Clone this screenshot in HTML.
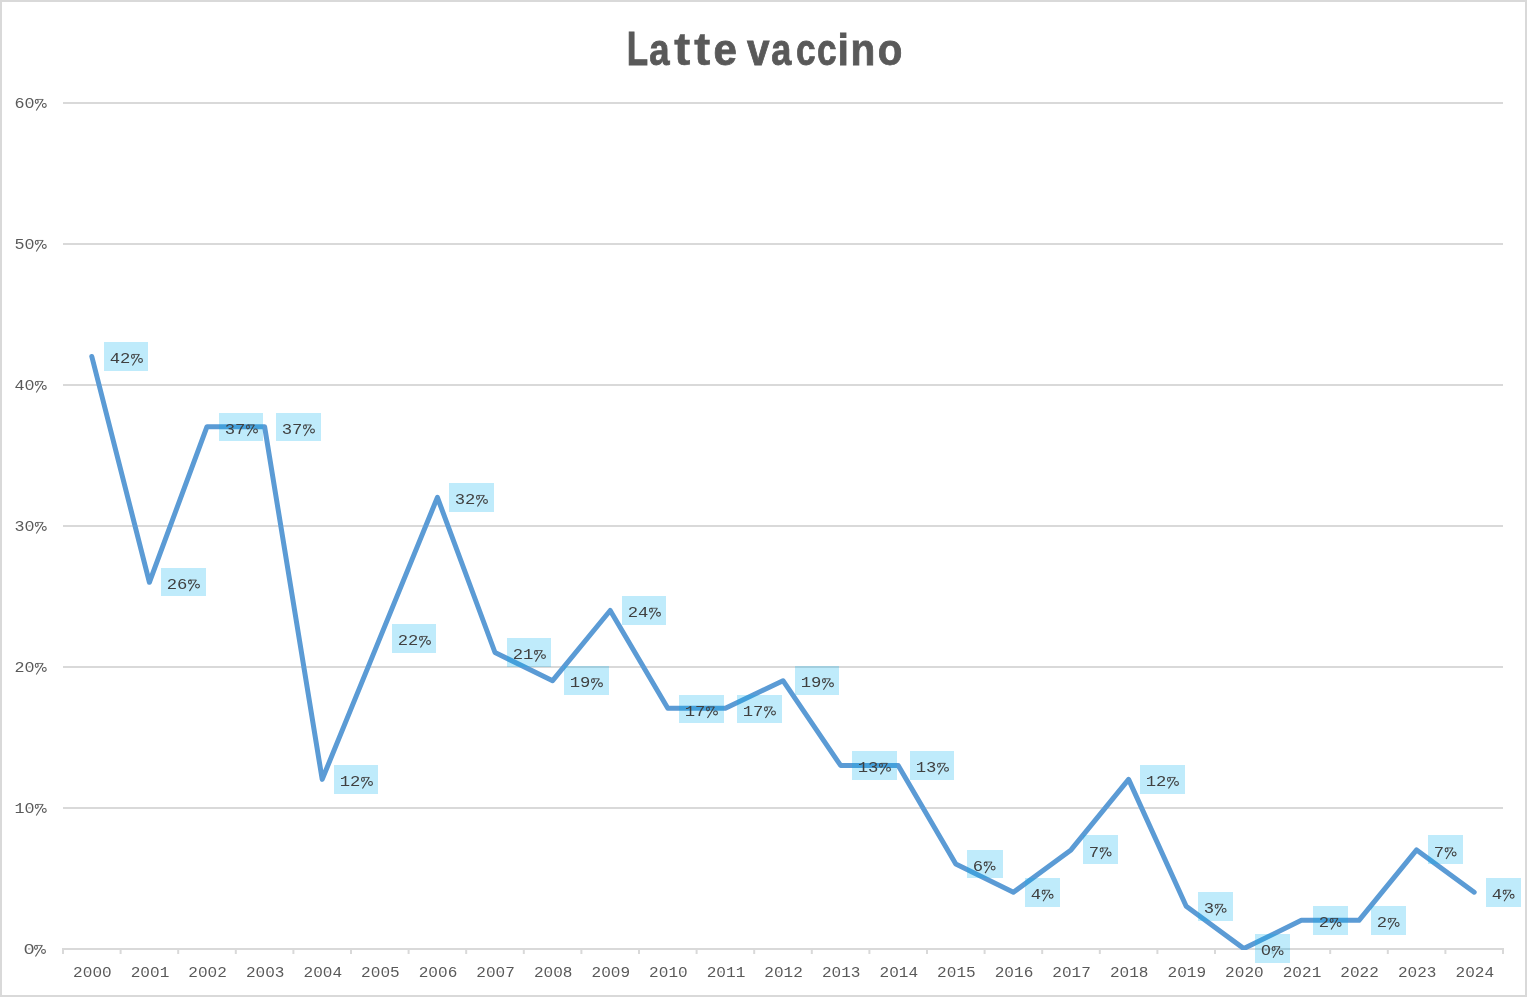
<!DOCTYPE html>
<html><head><meta charset="utf-8"><style>
html,body{margin:0;padding:0;background:#fff;}
body{width:1527px;height:997px;overflow:hidden;position:relative;}
svg{position:absolute;left:0;top:0;display:block;will-change:transform;}
text{font-family:"Liberation Sans",sans-serif;}
.m{font-family:"Liberation Mono",monospace;}
</style></head><body>
<svg width="1527" height="997" viewBox="0 0 1527 997">
<defs>
<g id="pct" fill="none">
<ellipse cx="1.95" cy="-6.55" rx="1.43" ry="1.9" stroke-width="1.05"/>
<path d="M1.95,-8.55 H8.45" stroke-width="0.8"/>
<path d="M8.3,-8.6 L1.45,2.5" stroke-width="1.05"/>
<ellipse cx="9.5" cy="-2.52" rx="1.9" ry="1.9" stroke-width="1.05"/>
</g>
<clipPath id="pc"><rect x="0" y="0" width="1527" height="950"/></clipPath>
</defs>
<rect x="0" y="0" width="1527" height="997" fill="#fff"/>
<rect x="1" y="1" width="1525" height="995" fill="none" stroke="#d9d9d9" stroke-width="2"/>
<g font-size="47" font-weight="bold" fill="#595959" stroke="#595959" stroke-width="0.8">
<text vector-effect="non-scaling-stroke" stroke-width="0.8" transform="translate(626.79,64.50) scale(0.744,1.019)">L</text>
<text vector-effect="non-scaling-stroke" stroke-width="0.8" transform="translate(649.21,64.50) scale(0.776,0.951)">a</text>
<text vector-effect="non-scaling-stroke" stroke-width="0.4" transform="translate(674.11,64.70) scale(1.050,0.987)">t</text>
<text vector-effect="non-scaling-stroke" stroke-width="0.4" transform="translate(694.01,64.70) scale(1.050,0.987)">t</text>
<text vector-effect="non-scaling-stroke" stroke-width="0.8" transform="translate(713.59,64.50) scale(0.894,0.951)">e</text>
<text vector-effect="non-scaling-stroke" stroke-width="0.8" transform="translate(747.03,64.50) scale(0.860,0.954)">v</text>
<text vector-effect="non-scaling-stroke" stroke-width="0.8" transform="translate(771.22,64.50) scale(0.768,0.951)">a</text>
<text vector-effect="non-scaling-stroke" stroke-width="0.8" transform="translate(796.05,64.50) scale(0.751,0.951)">c</text>
<text vector-effect="non-scaling-stroke" stroke-width="0.8" transform="translate(817.05,64.50) scale(0.751,0.951)">c</text>
<text vector-effect="non-scaling-stroke" stroke-width="0.8" transform="translate(837.51,64.50) scale(0.875,0.944)">i</text>
<text vector-effect="non-scaling-stroke" stroke-width="0.8" transform="translate(850.52,64.50) scale(0.863,0.951)">n</text>
<text vector-effect="non-scaling-stroke" stroke-width="0.8" transform="translate(877.76,64.50) scale(0.857,0.951)">o</text>
</g>
<line x1="63.0" y1="808.0" x2="1503.0" y2="808.0" stroke="#d9d9d9" stroke-width="2"/>
<line x1="63.0" y1="667.0" x2="1503.0" y2="667.0" stroke="#d9d9d9" stroke-width="2"/>
<line x1="63.0" y1="526.0" x2="1503.0" y2="526.0" stroke="#d9d9d9" stroke-width="2"/>
<line x1="63.0" y1="385.0" x2="1503.0" y2="385.0" stroke="#d9d9d9" stroke-width="2"/>
<line x1="63.0" y1="244.0" x2="1503.0" y2="244.0" stroke="#d9d9d9" stroke-width="2"/>
<line x1="63.0" y1="103.0" x2="1503.0" y2="103.0" stroke="#d9d9d9" stroke-width="2"/>
<text class="m" x="23.47" y="954.00" font-size="15.2" fill="#595959" textLength="11.20" lengthAdjust="spacingAndGlyphs">0</text><rect x="27.97" y="947.80" width="2.2" height="2.2" fill="#fff" fill-opacity="0.6"/>
<use href="#pct" x="34.00" y="954.00" stroke="#595959"/>
<text class="m" x="14.47" y="813.00" font-size="15.2" fill="#595959" textLength="20.06" lengthAdjust="spacingAndGlyphs">10</text><rect x="28.42" y="806.80" width="2.2" height="2.2" fill="#fff" fill-opacity="0.6"/>
<use href="#pct" x="34.80" y="813.00" stroke="#595959"/>
<text class="m" x="14.47" y="672.00" font-size="15.2" fill="#595959" textLength="20.06" lengthAdjust="spacingAndGlyphs">20</text><rect x="28.42" y="665.80" width="2.2" height="2.2" fill="#fff" fill-opacity="0.6"/>
<use href="#pct" x="34.80" y="672.00" stroke="#595959"/>
<text class="m" x="14.47" y="531.00" font-size="15.2" fill="#595959" textLength="20.06" lengthAdjust="spacingAndGlyphs">30</text><rect x="28.42" y="524.80" width="2.2" height="2.2" fill="#fff" fill-opacity="0.6"/>
<use href="#pct" x="34.80" y="531.00" stroke="#595959"/>
<text class="m" x="14.47" y="390.00" font-size="15.2" fill="#595959" textLength="20.06" lengthAdjust="spacingAndGlyphs">40</text><rect x="28.42" y="383.80" width="2.2" height="2.2" fill="#fff" fill-opacity="0.6"/>
<use href="#pct" x="34.80" y="390.00" stroke="#595959"/>
<text class="m" x="14.47" y="249.00" font-size="15.2" fill="#595959" textLength="20.06" lengthAdjust="spacingAndGlyphs">50</text><rect x="28.42" y="242.80" width="2.2" height="2.2" fill="#fff" fill-opacity="0.6"/>
<use href="#pct" x="34.80" y="249.00" stroke="#595959"/>
<text class="m" x="14.47" y="108.00" font-size="15.2" fill="#595959" textLength="20.06" lengthAdjust="spacingAndGlyphs">60</text><rect x="28.42" y="101.80" width="2.2" height="2.2" fill="#fff" fill-opacity="0.6"/>
<use href="#pct" x="34.80" y="108.00" stroke="#595959"/>
<line x1="62.0" y1="949.0" x2="1504.0" y2="949.0" stroke="#d9d9d9" stroke-width="2"/>
<line x1="63.0" y1="949.0" x2="63.0" y2="954.0" stroke="#d9d9d9" stroke-width="2"/>
<line x1="120.6" y1="949.0" x2="120.6" y2="954.0" stroke="#d9d9d9" stroke-width="2"/>
<line x1="178.2" y1="949.0" x2="178.2" y2="954.0" stroke="#d9d9d9" stroke-width="2"/>
<line x1="235.8" y1="949.0" x2="235.8" y2="954.0" stroke="#d9d9d9" stroke-width="2"/>
<line x1="293.4" y1="949.0" x2="293.4" y2="954.0" stroke="#d9d9d9" stroke-width="2"/>
<line x1="351.0" y1="949.0" x2="351.0" y2="954.0" stroke="#d9d9d9" stroke-width="2"/>
<line x1="408.6" y1="949.0" x2="408.6" y2="954.0" stroke="#d9d9d9" stroke-width="2"/>
<line x1="466.2" y1="949.0" x2="466.2" y2="954.0" stroke="#d9d9d9" stroke-width="2"/>
<line x1="523.8" y1="949.0" x2="523.8" y2="954.0" stroke="#d9d9d9" stroke-width="2"/>
<line x1="581.4" y1="949.0" x2="581.4" y2="954.0" stroke="#d9d9d9" stroke-width="2"/>
<line x1="639.0" y1="949.0" x2="639.0" y2="954.0" stroke="#d9d9d9" stroke-width="2"/>
<line x1="696.6" y1="949.0" x2="696.6" y2="954.0" stroke="#d9d9d9" stroke-width="2"/>
<line x1="754.2" y1="949.0" x2="754.2" y2="954.0" stroke="#d9d9d9" stroke-width="2"/>
<line x1="811.8" y1="949.0" x2="811.8" y2="954.0" stroke="#d9d9d9" stroke-width="2"/>
<line x1="869.4" y1="949.0" x2="869.4" y2="954.0" stroke="#d9d9d9" stroke-width="2"/>
<line x1="927.0" y1="949.0" x2="927.0" y2="954.0" stroke="#d9d9d9" stroke-width="2"/>
<line x1="984.6" y1="949.0" x2="984.6" y2="954.0" stroke="#d9d9d9" stroke-width="2"/>
<line x1="1042.2" y1="949.0" x2="1042.2" y2="954.0" stroke="#d9d9d9" stroke-width="2"/>
<line x1="1099.8" y1="949.0" x2="1099.8" y2="954.0" stroke="#d9d9d9" stroke-width="2"/>
<line x1="1157.4" y1="949.0" x2="1157.4" y2="954.0" stroke="#d9d9d9" stroke-width="2"/>
<line x1="1215.0" y1="949.0" x2="1215.0" y2="954.0" stroke="#d9d9d9" stroke-width="2"/>
<line x1="1272.6" y1="949.0" x2="1272.6" y2="954.0" stroke="#d9d9d9" stroke-width="2"/>
<line x1="1330.2" y1="949.0" x2="1330.2" y2="954.0" stroke="#d9d9d9" stroke-width="2"/>
<line x1="1387.8" y1="949.0" x2="1387.8" y2="954.0" stroke="#d9d9d9" stroke-width="2"/>
<line x1="1445.4" y1="949.0" x2="1445.4" y2="954.0" stroke="#d9d9d9" stroke-width="2"/>
<line x1="1503.0" y1="949.0" x2="1503.0" y2="954.0" stroke="#d9d9d9" stroke-width="2"/>
<text class="m" x="73.14" y="977.00" font-size="15.2" fill="#595959" textLength="38.54" lengthAdjust="spacingAndGlyphs">2000</text><rect x="86.50" y="970.80" width="2.2" height="2.2" fill="#fff" fill-opacity="0.6"/><rect x="96.13" y="970.80" width="2.2" height="2.2" fill="#fff" fill-opacity="0.6"/><rect x="105.77" y="970.80" width="2.2" height="2.2" fill="#fff" fill-opacity="0.6"/>
<text class="m" x="130.74" y="977.00" font-size="15.2" fill="#595959" textLength="38.54" lengthAdjust="spacingAndGlyphs">2001</text><rect x="144.10" y="970.80" width="2.2" height="2.2" fill="#fff" fill-opacity="0.6"/><rect x="153.73" y="970.80" width="2.2" height="2.2" fill="#fff" fill-opacity="0.6"/>
<text class="m" x="188.34" y="977.00" font-size="15.2" fill="#595959" textLength="38.54" lengthAdjust="spacingAndGlyphs">2002</text><rect x="201.70" y="970.80" width="2.2" height="2.2" fill="#fff" fill-opacity="0.6"/><rect x="211.33" y="970.80" width="2.2" height="2.2" fill="#fff" fill-opacity="0.6"/>
<text class="m" x="245.94" y="977.00" font-size="15.2" fill="#595959" textLength="38.54" lengthAdjust="spacingAndGlyphs">2003</text><rect x="259.30" y="970.80" width="2.2" height="2.2" fill="#fff" fill-opacity="0.6"/><rect x="268.93" y="970.80" width="2.2" height="2.2" fill="#fff" fill-opacity="0.6"/>
<text class="m" x="303.54" y="977.00" font-size="15.2" fill="#595959" textLength="38.54" lengthAdjust="spacingAndGlyphs">2004</text><rect x="316.90" y="970.80" width="2.2" height="2.2" fill="#fff" fill-opacity="0.6"/><rect x="326.53" y="970.80" width="2.2" height="2.2" fill="#fff" fill-opacity="0.6"/>
<text class="m" x="361.14" y="977.00" font-size="15.2" fill="#595959" textLength="38.54" lengthAdjust="spacingAndGlyphs">2005</text><rect x="374.50" y="970.80" width="2.2" height="2.2" fill="#fff" fill-opacity="0.6"/><rect x="384.13" y="970.80" width="2.2" height="2.2" fill="#fff" fill-opacity="0.6"/>
<text class="m" x="418.74" y="977.00" font-size="15.2" fill="#595959" textLength="38.54" lengthAdjust="spacingAndGlyphs">2006</text><rect x="432.10" y="970.80" width="2.2" height="2.2" fill="#fff" fill-opacity="0.6"/><rect x="441.73" y="970.80" width="2.2" height="2.2" fill="#fff" fill-opacity="0.6"/>
<text class="m" x="476.34" y="977.00" font-size="15.2" fill="#595959" textLength="38.54" lengthAdjust="spacingAndGlyphs">2007</text><rect x="489.70" y="970.80" width="2.2" height="2.2" fill="#fff" fill-opacity="0.6"/><rect x="499.33" y="970.80" width="2.2" height="2.2" fill="#fff" fill-opacity="0.6"/>
<text class="m" x="533.94" y="977.00" font-size="15.2" fill="#595959" textLength="38.54" lengthAdjust="spacingAndGlyphs">2008</text><rect x="547.30" y="970.80" width="2.2" height="2.2" fill="#fff" fill-opacity="0.6"/><rect x="556.93" y="970.80" width="2.2" height="2.2" fill="#fff" fill-opacity="0.6"/>
<text class="m" x="591.54" y="977.00" font-size="15.2" fill="#595959" textLength="38.54" lengthAdjust="spacingAndGlyphs">2009</text><rect x="604.90" y="970.80" width="2.2" height="2.2" fill="#fff" fill-opacity="0.6"/><rect x="614.53" y="970.80" width="2.2" height="2.2" fill="#fff" fill-opacity="0.6"/>
<text class="m" x="649.14" y="977.00" font-size="15.2" fill="#595959" textLength="38.54" lengthAdjust="spacingAndGlyphs">2010</text><rect x="662.50" y="970.80" width="2.2" height="2.2" fill="#fff" fill-opacity="0.6"/><rect x="681.77" y="970.80" width="2.2" height="2.2" fill="#fff" fill-opacity="0.6"/>
<text class="m" x="706.74" y="977.00" font-size="15.2" fill="#595959" textLength="38.54" lengthAdjust="spacingAndGlyphs">2011</text><rect x="720.10" y="970.80" width="2.2" height="2.2" fill="#fff" fill-opacity="0.6"/>
<text class="m" x="764.34" y="977.00" font-size="15.2" fill="#595959" textLength="38.54" lengthAdjust="spacingAndGlyphs">2012</text><rect x="777.70" y="970.80" width="2.2" height="2.2" fill="#fff" fill-opacity="0.6"/>
<text class="m" x="821.94" y="977.00" font-size="15.2" fill="#595959" textLength="38.54" lengthAdjust="spacingAndGlyphs">2013</text><rect x="835.30" y="970.80" width="2.2" height="2.2" fill="#fff" fill-opacity="0.6"/>
<text class="m" x="879.54" y="977.00" font-size="15.2" fill="#595959" textLength="38.54" lengthAdjust="spacingAndGlyphs">2014</text><rect x="892.90" y="970.80" width="2.2" height="2.2" fill="#fff" fill-opacity="0.6"/>
<text class="m" x="937.14" y="977.00" font-size="15.2" fill="#595959" textLength="38.54" lengthAdjust="spacingAndGlyphs">2015</text><rect x="950.50" y="970.80" width="2.2" height="2.2" fill="#fff" fill-opacity="0.6"/>
<text class="m" x="994.74" y="977.00" font-size="15.2" fill="#595959" textLength="38.54" lengthAdjust="spacingAndGlyphs">2016</text><rect x="1008.10" y="970.80" width="2.2" height="2.2" fill="#fff" fill-opacity="0.6"/>
<text class="m" x="1052.34" y="977.00" font-size="15.2" fill="#595959" textLength="38.54" lengthAdjust="spacingAndGlyphs">2017</text><rect x="1065.70" y="970.80" width="2.2" height="2.2" fill="#fff" fill-opacity="0.6"/>
<text class="m" x="1109.94" y="977.00" font-size="15.2" fill="#595959" textLength="38.54" lengthAdjust="spacingAndGlyphs">2018</text><rect x="1123.30" y="970.80" width="2.2" height="2.2" fill="#fff" fill-opacity="0.6"/>
<text class="m" x="1167.54" y="977.00" font-size="15.2" fill="#595959" textLength="38.54" lengthAdjust="spacingAndGlyphs">2019</text><rect x="1180.90" y="970.80" width="2.2" height="2.2" fill="#fff" fill-opacity="0.6"/>
<text class="m" x="1225.14" y="977.00" font-size="15.2" fill="#595959" textLength="38.54" lengthAdjust="spacingAndGlyphs">2020</text><rect x="1238.50" y="970.80" width="2.2" height="2.2" fill="#fff" fill-opacity="0.6"/><rect x="1257.77" y="970.80" width="2.2" height="2.2" fill="#fff" fill-opacity="0.6"/>
<text class="m" x="1282.74" y="977.00" font-size="15.2" fill="#595959" textLength="38.54" lengthAdjust="spacingAndGlyphs">2021</text><rect x="1296.10" y="970.80" width="2.2" height="2.2" fill="#fff" fill-opacity="0.6"/>
<text class="m" x="1340.34" y="977.00" font-size="15.2" fill="#595959" textLength="38.54" lengthAdjust="spacingAndGlyphs">2022</text><rect x="1353.70" y="970.80" width="2.2" height="2.2" fill="#fff" fill-opacity="0.6"/>
<text class="m" x="1397.94" y="977.00" font-size="15.2" fill="#595959" textLength="38.54" lengthAdjust="spacingAndGlyphs">2023</text><rect x="1411.30" y="970.80" width="2.2" height="2.2" fill="#fff" fill-opacity="0.6"/>
<text class="m" x="1455.54" y="977.00" font-size="15.2" fill="#595959" textLength="38.54" lengthAdjust="spacingAndGlyphs">2024</text><rect x="1468.90" y="970.80" width="2.2" height="2.2" fill="#fff" fill-opacity="0.6"/>
<polyline clip-path="url(#pc)" points="91.80,356.50 149.40,582.30 207.00,426.70 264.60,426.70 322.20,779.40 379.80,638.40 437.40,497.40 495.00,652.50 552.60,680.70 610.20,610.50 667.80,708.35 725.40,708.35 783.00,680.70 840.60,765.45 898.20,765.45 955.80,864.00 1013.40,892.20 1071.00,849.90 1128.60,779.40 1186.20,906.30 1243.80,948.60 1301.40,920.35 1359.00,920.35 1416.60,849.90 1474.20,892.20" fill="none" stroke="#5b9bd5" stroke-width="5" stroke-linejoin="round" stroke-linecap="round"/>
<rect x="104" y="342" width="44" height="29" fill="rgba(0,176,240,0.25)"/>
<rect x="161" y="568" width="45" height="28" fill="rgba(0,176,240,0.25)"/>
<rect x="219" y="413" width="44" height="28" fill="rgba(0,176,240,0.25)"/>
<rect x="276" y="413" width="45" height="28" fill="rgba(0,176,240,0.25)"/>
<rect x="334" y="765" width="44" height="29" fill="rgba(0,176,240,0.25)"/>
<rect x="392" y="624" width="44" height="29" fill="rgba(0,176,240,0.25)"/>
<rect x="449" y="483" width="45" height="29" fill="rgba(0,176,240,0.25)"/>
<rect x="507" y="638" width="44" height="29" fill="rgba(0,176,240,0.25)"/>
<rect x="564" y="666" width="45" height="29" fill="rgba(0,176,240,0.25)"/>
<rect x="622" y="596" width="44" height="29" fill="rgba(0,176,240,0.25)"/>
<rect x="679" y="695" width="45" height="28" fill="rgba(0,176,240,0.25)"/>
<rect x="737" y="695" width="45" height="28" fill="rgba(0,176,240,0.25)"/>
<rect x="795" y="666" width="44" height="29" fill="rgba(0,176,240,0.25)"/>
<rect x="852" y="751" width="45" height="29" fill="rgba(0,176,240,0.25)"/>
<rect x="910" y="751" width="44" height="29" fill="rgba(0,176,240,0.25)"/>
<rect x="967" y="850" width="36" height="28" fill="rgba(0,176,240,0.25)"/>
<rect x="1025" y="878" width="35" height="29" fill="rgba(0,176,240,0.25)"/>
<rect x="1083" y="835" width="35" height="29" fill="rgba(0,176,240,0.25)"/>
<rect x="1140" y="765" width="45" height="29" fill="rgba(0,176,240,0.25)"/>
<rect x="1198" y="892" width="35" height="29" fill="rgba(0,176,240,0.25)"/>
<rect x="1255" y="934" width="35" height="29" fill="rgba(0,176,240,0.25)"/>
<rect x="1313" y="906" width="35" height="29" fill="rgba(0,176,240,0.25)"/>
<rect x="1371" y="906" width="35" height="29" fill="rgba(0,176,240,0.25)"/>
<rect x="1428" y="835" width="35" height="29" fill="rgba(0,176,240,0.25)"/>
<rect x="1486" y="878" width="35" height="29" fill="rgba(0,176,240,0.25)"/>
<text class="m" x="109.66" y="363.00" font-size="15.2" fill="#404040" textLength="20.70" lengthAdjust="spacingAndGlyphs">42</text>
<use href="#pct" x="131.00" y="363.00" stroke="#404040"/>
<text class="m" x="166.67" y="588.60" font-size="15.2" fill="#404040" textLength="20.70" lengthAdjust="spacingAndGlyphs">26</text>
<use href="#pct" x="188.00" y="588.60" stroke="#404040"/>
<text class="m" x="224.67" y="433.50" font-size="15.2" fill="#404040" textLength="20.70" lengthAdjust="spacingAndGlyphs">37</text>
<use href="#pct" x="246.00" y="433.50" stroke="#404040"/>
<text class="m" x="281.67" y="433.50" font-size="15.2" fill="#404040" textLength="20.70" lengthAdjust="spacingAndGlyphs">37</text>
<use href="#pct" x="303.00" y="433.50" stroke="#404040"/>
<text class="m" x="339.67" y="786.00" font-size="15.2" fill="#404040" textLength="20.70" lengthAdjust="spacingAndGlyphs">12</text>
<use href="#pct" x="361.00" y="786.00" stroke="#404040"/>
<text class="m" x="397.67" y="645.00" font-size="15.2" fill="#404040" textLength="20.70" lengthAdjust="spacingAndGlyphs">22</text>
<use href="#pct" x="419.00" y="645.00" stroke="#404040"/>
<text class="m" x="454.67" y="504.00" font-size="15.2" fill="#404040" textLength="20.70" lengthAdjust="spacingAndGlyphs">32</text>
<use href="#pct" x="476.00" y="504.00" stroke="#404040"/>
<text class="m" x="512.66" y="659.10" font-size="15.2" fill="#404040" textLength="20.70" lengthAdjust="spacingAndGlyphs">21</text>
<use href="#pct" x="534.00" y="659.10" stroke="#404040"/>
<text class="m" x="569.66" y="687.30" font-size="15.2" fill="#404040" textLength="20.70" lengthAdjust="spacingAndGlyphs">19</text>
<use href="#pct" x="591.00" y="687.30" stroke="#404040"/>
<text class="m" x="627.66" y="616.80" font-size="15.2" fill="#404040" textLength="20.70" lengthAdjust="spacingAndGlyphs">24</text>
<use href="#pct" x="649.00" y="616.80" stroke="#404040"/>
<text class="m" x="684.66" y="715.50" font-size="15.2" fill="#404040" textLength="20.70" lengthAdjust="spacingAndGlyphs">17</text>
<use href="#pct" x="706.00" y="715.50" stroke="#404040"/>
<text class="m" x="742.66" y="715.50" font-size="15.2" fill="#404040" textLength="20.70" lengthAdjust="spacingAndGlyphs">17</text>
<use href="#pct" x="764.00" y="715.50" stroke="#404040"/>
<text class="m" x="800.66" y="687.30" font-size="15.2" fill="#404040" textLength="20.70" lengthAdjust="spacingAndGlyphs">19</text>
<use href="#pct" x="822.00" y="687.30" stroke="#404040"/>
<text class="m" x="857.66" y="771.90" font-size="15.2" fill="#404040" textLength="20.70" lengthAdjust="spacingAndGlyphs">13</text>
<use href="#pct" x="879.00" y="771.90" stroke="#404040"/>
<text class="m" x="915.66" y="771.90" font-size="15.2" fill="#404040" textLength="20.70" lengthAdjust="spacingAndGlyphs">13</text>
<use href="#pct" x="937.00" y="771.90" stroke="#404040"/>
<text class="m" x="972.66" y="870.60" font-size="15.2" fill="#404040" textLength="10.35" lengthAdjust="spacingAndGlyphs">6</text>
<use href="#pct" x="983.64" y="870.60" stroke="#404040"/>
<text class="m" x="1030.66" y="898.80" font-size="15.2" fill="#404040" textLength="10.35" lengthAdjust="spacingAndGlyphs">4</text>
<use href="#pct" x="1041.64" y="898.80" stroke="#404040"/>
<text class="m" x="1088.66" y="856.50" font-size="15.2" fill="#404040" textLength="10.35" lengthAdjust="spacingAndGlyphs">7</text>
<use href="#pct" x="1099.64" y="856.50" stroke="#404040"/>
<text class="m" x="1145.66" y="786.00" font-size="15.2" fill="#404040" textLength="20.70" lengthAdjust="spacingAndGlyphs">12</text>
<use href="#pct" x="1167.00" y="786.00" stroke="#404040"/>
<text class="m" x="1203.66" y="912.90" font-size="15.2" fill="#404040" textLength="10.35" lengthAdjust="spacingAndGlyphs">3</text>
<use href="#pct" x="1214.64" y="912.90" stroke="#404040"/>
<text class="m" x="1260.66" y="955.20" font-size="15.2" fill="#404040" textLength="10.35" lengthAdjust="spacingAndGlyphs">0</text><rect x="1264.74" y="949.00" width="2.2" height="2.2" fill="#bfebfc" fill-opacity="0.6"/>
<use href="#pct" x="1271.64" y="955.20" stroke="#404040"/>
<text class="m" x="1318.66" y="927.00" font-size="15.2" fill="#404040" textLength="10.35" lengthAdjust="spacingAndGlyphs">2</text>
<use href="#pct" x="1329.64" y="927.00" stroke="#404040"/>
<text class="m" x="1376.66" y="927.00" font-size="15.2" fill="#404040" textLength="10.35" lengthAdjust="spacingAndGlyphs">2</text>
<use href="#pct" x="1387.64" y="927.00" stroke="#404040"/>
<text class="m" x="1433.66" y="856.50" font-size="15.2" fill="#404040" textLength="10.35" lengthAdjust="spacingAndGlyphs">7</text>
<use href="#pct" x="1444.64" y="856.50" stroke="#404040"/>
<text class="m" x="1491.66" y="898.80" font-size="15.2" fill="#404040" textLength="10.35" lengthAdjust="spacingAndGlyphs">4</text>
<use href="#pct" x="1502.64" y="898.80" stroke="#404040"/>
</svg></body></html>
